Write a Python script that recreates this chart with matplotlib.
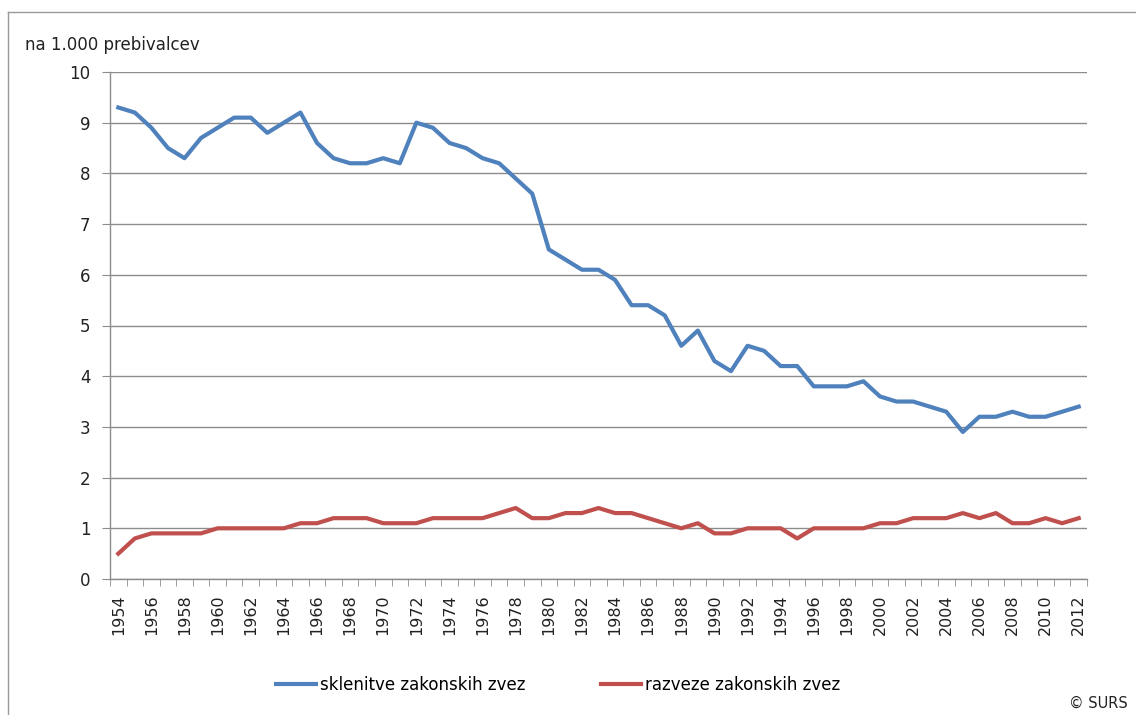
import numpy as np
import matplotlib.pyplot as plt
from matplotlib.lines import Line2D

# ---------------------------------
# data (na 1.000 prebivalcev)

years = list(range(1954, 2013))

sklenitve = [9.3, 9.2, 8.9, 8.5, 8.3, 8.7, 8.9, 9.1, 9.1, 8.8,
             9.0, 9.2, 8.6, 8.3, 8.2, 8.2, 8.3, 8.2, 9.0, 8.9,
             8.6, 8.5, 8.3, 8.2, 7.9, 7.6, 6.5, 6.3, 6.1, 6.1,
             5.9, 5.4, 5.4, 5.2, 4.6, 4.9, 4.3, 4.1, 4.6, 4.5,
             4.2, 4.2, 3.8, 3.8, 3.8, 3.9, 3.6, 3.5, 3.5, 3.4,
             3.3, 2.9, 3.2, 3.2, 3.3, 3.2, 3.2, 3.3, 3.4]

razveze = [0.5, 0.8, 0.9, 0.9, 0.9, 0.9, 1.0, 1.0, 1.0, 1.0,
           1.0, 1.1, 1.1, 1.2, 1.2, 1.2, 1.1, 1.1, 1.1, 1.2,
           1.2, 1.2, 1.2, 1.3, 1.4, 1.2, 1.2, 1.3, 1.3, 1.4,
           1.3, 1.3, 1.2, 1.1, 1.0, 1.1, 0.9, 0.9, 1.0, 1.0,
           1.0, 0.8, 1.0, 1.0, 1.0, 1.0, 1.1, 1.1, 1.2, 1.2,
           1.2, 1.3, 1.2, 1.3, 1.1, 1.1, 1.2, 1.1, 1.2]

series_names = ['sklenitve zakonskih zvez', 'razveze zakonskih zvez']
y_ticks = list(range(0, 11))

blue = '#4F81BD'
red = '#C0504D'
grid_col = '#8C8C8C'
txt_col = '#222222'

plt.rcParams['font.family'] = ['DejaVu Sans']

# ---------------------------------
# figure

W, H = 1136, 715
fig = plt.figure(figsize=(W / 100, H / 100), dpi=100)
ax = fig.add_axes([110 / W, 1 - 579 / H, (1087 - 110) / W, (579 - 72) / H])

ax.plot(years, sklenitve, color=blue, lw=3, solid_joinstyle='round')
ax.plot(years, razveze, color=red, lw=3, solid_joinstyle='round')

ax.set_xlim(years[0] - 0.5, years[-1] + 0.5)
ax.set_ylim(0, 10)
ax.set_yticks(y_ticks)
ax.set_yticklabels([str(v) for v in y_ticks], fontsize=12, color=txt_col)

# labels at every other year, tick marks between categories
ax.set_xticks(years[::2])
ax.set_xticklabels([str(y) for y in years[::2]], rotation=90,
                   fontsize=11.5, color=txt_col)
ax.tick_params(axis='x', length=0, pad=11)
ax.set_xticks(np.arange(years[0] - 0.5, years[-1] + 1), minor=True)
ax.tick_params(axis='x', which='minor', length=5, color=grid_col, direction='out')
ax.tick_params(axis='y', length=6, color=grid_col, direction='out', pad=8)

ax.grid(axis='y', color=grid_col, lw=1)
ax.set_axisbelow(True)
for s in ['top', 'right']:
    ax.spines[s].set_visible(False)
for s in ['left', 'bottom']:
    ax.spines[s].set_color(grid_col)
    ax.spines[s].set_linewidth(1)

# unit label
fig.text(25 / W, 1 - 45 / H, 'na 1.000 prebivalcev', fontsize=12,
         color=txt_col, va='center', ha='left')

# legend
handles = [Line2D([], [], color=blue, lw=3), Line2D([], [], color=red, lw=3)]
fig.legend(handles, series_names, loc='center', bbox_to_anchor=(558 / W, 1 - 685 / H),
           ncol=2, frameon=False, fontsize=12, handlelength=2.4,
           handletextpad=0.25, columnspacing=4.5)

fig.text(1128 / W, 1 - 703 / H, '© SURS', fontsize=10.5, color=txt_col,
         ha='right', va='center')

# chart frame
fig.add_artist(Line2D([8 / W, 1], [1 - 12 / H, 1 - 12 / H], color='#9A9A9A', lw=1))
fig.add_artist(Line2D([8 / W, 8 / W], [0, 1 - 12 / H], color='#9A9A9A', lw=1))

fig.savefig('out.png', dpi=100)
